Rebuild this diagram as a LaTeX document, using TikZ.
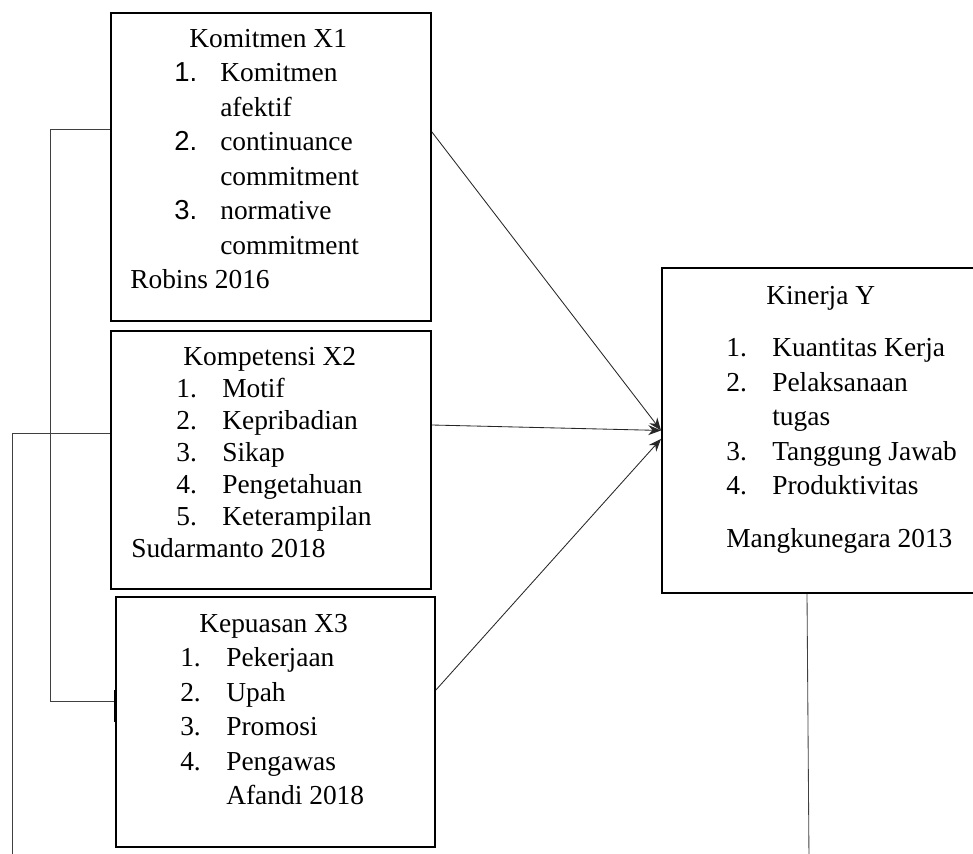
\documentclass[tikz,border=0pt]{standalone}
\usepackage{fontspec}
\setmainfont{Liberation Serif}
\newfontfamily\numfont{Liberation Sans}
\usetikzlibrary{arrows.meta}

\tikzset{
  box/.style={draw, line width=1.3pt, anchor=north west, inner sep=0pt},
  txt/.style={anchor=north west, inner sep=0pt, align=left,
    font=\fontsize{19.5}{24.5}\selectfont},
  link/.style={line width=0.6pt, black!75},
  arr/.style={line width=0.6pt, black!85, -{Stealth[length=9pt,width=7pt]}},
}
\newcommand{\nr}[1]{\makebox[1.15cm][l]{#1}}

\begin{document}
\begin{tikzpicture}[x=0.025cm, y=-0.025cm]
  \clip (0,0) rectangle (973,854);
  \fill[white] (0,0) rectangle (973,854);

  % Define boxes
  \node[box, minimum width=8cm, minimum height=7.7cm] (x1) at (110,12) {};
  \node[box, minimum width=8cm, minimum height=6.45cm] (x2) at (110,330) {};
  \node[box, minimum width=7.975cm, minimum height=6.25cm] (x3) at (115,596) {};
  \node[box, minimum width=8cm, minimum height=8.125cm] (y) at (661,267) {};

  % Texts
  \node[txt] (x1txt) at (130,29) {%
    \hspace*{1.475cm}Komitmen X1\\
    \hspace*{1.1cm}\nr{\numfont 1.}Komitmen\\
    \hspace*{2.25cm}afektif\\
    \hspace*{1.1cm}\nr{\numfont 2.}continuance\\
    \hspace*{2.25cm}commitment\\
    \hspace*{1.1cm}\nr{\numfont 3.}normative\\
    \hspace*{2.25cm}commitment\\
    Robins 2016};
  \node[txt, font=\fontsize{19.5}{22.8}\selectfont] (x2txt) at (131,347) {%
    \hspace*{1.3cm}Kompetensi X2\\
    \hspace*{1.125cm}\nr{1.}Motif\\
    \hspace*{1.125cm}\nr{2.}Kepribadian\\
    \hspace*{1.125cm}\nr{3.}Sikap\\
    \hspace*{1.125cm}\nr{4.}Pengetahuan\\
    \hspace*{1.125cm}\nr{5.}Keterampilan\\
    Sudarmanto 2018};
  \node[txt] (x3txt) at (180,614) {%
    \hspace*{0.475cm}Kepuasan X3\\
    \nr{1.}Pekerjaan\\
    \nr{2.}Upah\\
    \nr{3.}Promosi\\
    \nr{4.}Pengawas\\
    \hspace*{1.15cm}Afandi 2018};
  \node[txt] (ytxt) at (726,286) {%
    \hspace*{1cm}Kinerja Y\\[0.45cm]
    \nr{1.}Kuantitas Kerja\\
    \nr{2.}Pelaksanaan\\
    \hspace*{1.15cm}tugas\\
    \nr{3.}Tanggung Jawab\\
    \nr{4.}Produktivitas\\[0.45cm]
    Mangkunegara 2013};

  % Arrows to Kinerja
  \draw[arr] (x1.east |- 0,132) -- (y.west);
  \draw[arr] (x2.east |- 0,425) -- (y.west);
  \draw[arr] (x3.east |- 0,690) -- ([yshift=-6pt]y.west);

  % Left connectors
  \coordinate (k1) at (50,129);
  \coordinate (k3) at (50,701);
  \coordinate (k2) at (12,433);
  \coordinate (k2e) at (12,860);
  \coordinate (k4) at (809,860);
  \draw[link] (x1.west |- k1) -- (k1) -- (k3) -- (x3.west |- k3);
  \draw[line width=2pt] (x3.west |- 0,690) -- (x3.west |- 0,722);
  \draw[link] (x2.west |- k2) -- (k2) -- (k2e);
  \draw[link] (y.south -| 807,0) -- (k4);
\end{tikzpicture}
\end{document}
